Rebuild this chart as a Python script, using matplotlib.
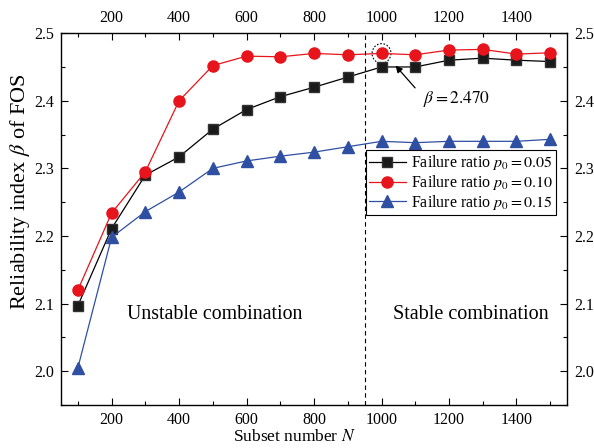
import matplotlib
matplotlib.use("Agg")
import matplotlib.pyplot as plt
from matplotlib.patches import Ellipse
from matplotlib.ticker import MultipleLocator

plt.rcParams['font.family'] = ['Liberation Serif', 'DejaVu Serif']
plt.rcParams['mathtext.fontset'] = 'stix'

N = [100, 200, 300, 400, 500, 600, 700, 800, 900, 1000, 1100, 1200, 1300, 1400, 1500]
beta_005 = [2.097, 2.211, 2.290, 2.317, 2.358, 2.387, 2.406, 2.420, 2.435, 2.450,
            2.450, 2.460, 2.463, 2.460, 2.458]
beta_010 = [2.120, 2.234, 2.295, 2.400, 2.452, 2.466, 2.465, 2.470, 2.468, 2.470,
            2.468, 2.475, 2.476, 2.469, 2.471]
beta_015 = [2.005, 2.198, 2.236, 2.265, 2.300, 2.311, 2.318, 2.324, 2.332, 2.340,
            2.338, 2.340, 2.340, 2.340, 2.343]
labels = [r"Failure ratio $p_0 = 0.05$", r"Failure ratio $p_0 = 0.10$",
          r"Failure ratio $p_0 = 0.15$"]

fig = plt.figure(figsize=(5.94, 4.48), dpi=100)
ax = fig.add_axes([0.1027, 0.096, 0.852, 0.830])

ax.plot(N, beta_005, '-s', color='black', mfc='#1a1a1a', mec='#333333', ms=7, lw=0.9, label=labels[0])
ax.plot(N, beta_010, '-o', color='#e8141c', mfc='#e8141c', mec='#e8141c', ms=8, lw=0.9, label=labels[1])
ax.plot(N, beta_015, '-^', color='#2f4fa3', mfc='#2f4fa3', mec='#2f4fa3', ms=8, lw=0.9, label=labels[2])

ax.set_xlim(50, 1550)
ax.set_ylim(1.95, 2.5)
ax.xaxis.set_minor_locator(MultipleLocator(100))
ax.yaxis.set_minor_locator(MultipleLocator(0.05))
ax.set_xticks([200, 400, 600, 800, 1000, 1200, 1400])
ax.set_yticks([2.0, 2.1, 2.2, 2.3, 2.4, 2.5])
ax.set_yticklabels(['2.0', '2.1', '2.2', '2.3', '2.4', '2.5'])
ax.tick_params(which='both', direction='in', top=True, right=True,
               labeltop=True, labelright=True, labelsize=11.5, pad=5)
ax.tick_params(which='major', length=5, width=0.8)
ax.tick_params(which='minor', length=3, width=0.8)
for s in ax.spines.values():
    s.set_linewidth(1.0)

ax.axvline(950, color='black', lw=0.8, ls=(0, (4, 3)))

ax.set_xlabel(r"Subset number $N$", fontsize=12.5, va='center')
ax.xaxis.set_label_coords(0.462, -0.087)
ax.set_ylabel(r"Reliability index $\beta$ of FOS", fontsize=16, va='center')
ax.yaxis.set_label_coords(-0.082, 0.575)

ax.text(506, 2.084, "Unstable combination", fontsize=14.3, ha='center', va='center')
ax.text(1265, 2.084, "Stable combination", fontsize=14.5, ha='center', va='center')

ax.add_patch(Ellipse((1000, 2.470), 56, 0.029, fill=False, ls=(0, (1.5, 1.5)), lw=0.8, color='black'))
ax.annotate("", xy=(1036, 2.455), xytext=(1105, 2.416),
            arrowprops=dict(arrowstyle='-|>', color='black', lw=0.9, mutation_scale=10))
ax.text(1123, 2.403, r"$\beta = 2.470$", fontsize=12.5, ha='left', va='center')

leg = ax.legend(loc='upper right', bbox_to_anchor=(0.978, 0.685), fontsize=11.5,
                frameon=True, fancybox=False, edgecolor='black', framealpha=1,
                handlelength=2.3, borderpad=0.2, labelspacing=0.05, handletextpad=0.3,
                borderaxespad=0)
leg.get_frame().set_linewidth(0.8)

fig.savefig("out.png", dpi=100)
